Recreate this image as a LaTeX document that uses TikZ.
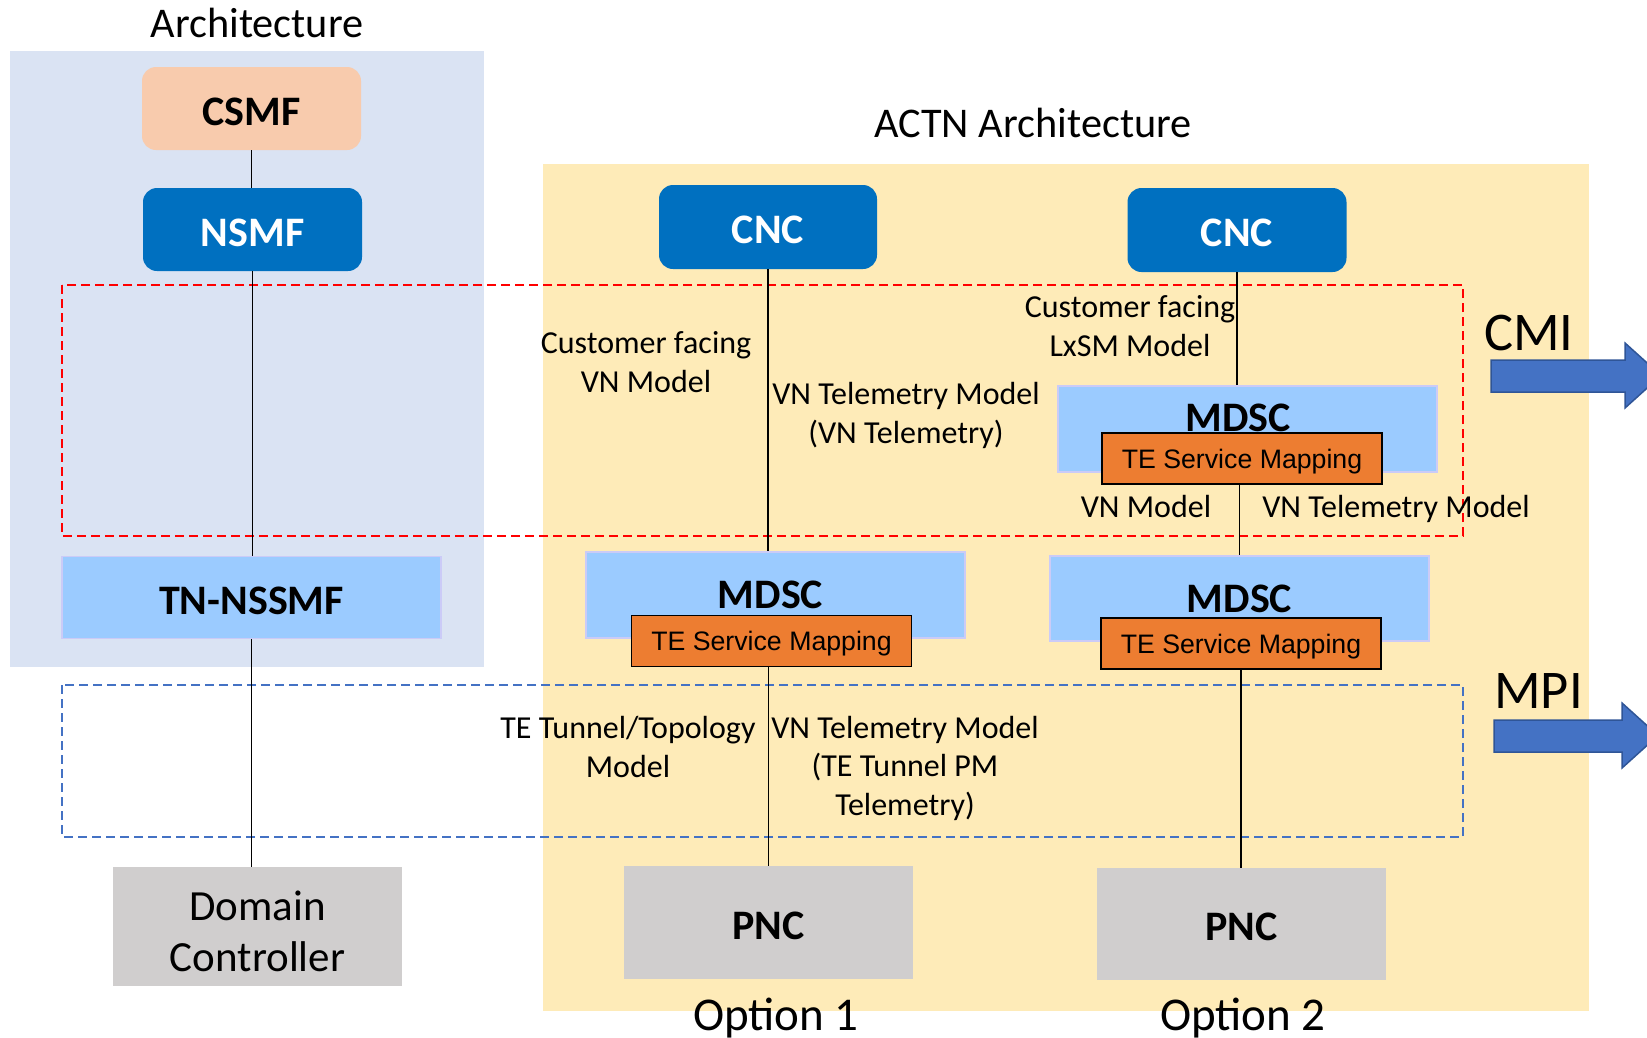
\documentclass[tikz,border=0pt]{standalone}
\usepackage{fontspec}
\setmainfont{Carlito}
\newfontfamily\arialfont{Liberation Sans}
\usetikzlibrary{arrows.meta}

\definecolor{archbg}{HTML}{DAE3F3}
\definecolor{actnbg}{HTML}{FEEBB8}
\definecolor{csmfc}{HTML}{F8CBAD}
\definecolor{ctrlblue}{HTML}{0070C0}
\definecolor{mdscc}{HTML}{9BCBFF}
\definecolor{mdscline}{HTML}{CBCBF7}
\definecolor{tec}{HTML}{ED7D31}
\definecolor{pncc}{HTML}{D0CECE}
\definecolor{ifblue}{HTML}{4472C4}
\definecolor{ifline}{HTML}{2F5597}

\begin{document}
\begin{tikzpicture}[x=1pt, y=-1pt,
    boldbox/.style={inner sep=0pt, text height=33pt, text depth=0pt,
        font=\fontsize{42}{50}\selectfont\bfseries},
    mgmt/.style={boldbox, fill=ctrlblue, text=white, rounded corners=14pt},
    mdsc/.style={boldbox, fill=mdscc, draw=mdscline, line width=1.5pt,
        text height=27pt, minimum width=379pt, minimum height=86pt},
    temap/.style={inner sep=0pt, fill=tec, draw=black, line width=1.5pt,
        text depth=0pt, minimum width=280pt, minimum height=51pt,
        font=\arialfont\fontsize{26.7}{30}\selectfont},
    pnc/.style={boldbox, fill=pncc, minimum width=289pt, minimum height=113pt},
    lbl/.style={inner sep=0pt, anchor=base, align=center,
        font=\fontsize{32}{38.5}\selectfont},
    title/.style={inner sep=0pt, anchor=base, font=\fontsize{42.3}{48}\selectfont},
    iflbl/.style={inner sep=0pt, anchor=base, font=\fontsize{54.5}{60}\selectfont},
    conn/.style={line width=1.5pt},
    ifbox/.style={dashed, dash pattern=on 9pt off 5pt, line width=2pt},
    ifarrow/.style={fill=ifblue, draw=ifline, line width=1.5pt}]

    \useasboundingbox (0,0) rectangle (1647,1037);
    \clip (0,0) rectangle (1647,1037);

    % panels
    \fill[archbg] (10,51) rectangle (484,667);
    \fill[actnbg] (543,164) rectangle (1589,1011);

    % titles
    \node[title] (arch) at (257,37) {Architecture};
    \node[title] (actn) at (1033,137) {ACTN Architecture};

    % interface regions
    \draw[ifbox, red] (62,285) rectangle (1463,536);
    \draw[ifbox, ifblue] (62,685) rectangle (1463,837);

    % 3GPP side
    \node[boldbox, fill=csmfc, rounded corners=14pt, minimum width=219pt,
        minimum height=83pt] (csmf) at (251.5,108.5) {CSMF};
    \node[mgmt, minimum width=219pt, minimum height=83pt] (nsmf) at (252.5,229.5) {NSMF};
    \node[mdsc, text height=33pt, minimum height=82pt] (tnnssmf) at (251.5,597.5) {TN-NSSMF};
    \node[inner sep=0pt, fill=pncc, minimum width=289pt, minimum height=119pt,
        align=center, font=\fontsize{43}{51.5}\selectfont] (domain) at (257.5,926.5)
        {\rule{0pt}{39pt}Domain\\Controller};

    % option 1
    \node[mgmt, minimum width=218pt, minimum height=84pt] (cnc1) at (768,227) {CNC};
    \node[mdsc] (mdscA) at (775.5,595) {\hspace*{-10pt}MDSC};
    \node[temap] (teA) at (771.5,641) {TE Service Mapping};
    \node[pnc] (pnc1) at (768.5,922.5) {PNC};

    % option 2
    \node[mgmt, minimum width=219pt, minimum height=84pt] (cnc2) at (1237,230) {CNC};
    \node[mdsc, text depth=23pt] (mdscC) at (1247.5,429) {\hspace*{-19pt}MDSC};
    \node[temap] (teC) at (1242,458.5) {TE Service Mapping};
    \node[mdsc, minimum height=85pt] (mdscB) at (1239.5,598.5) {MDSC};
    \node[temap] (teB) at (1241,643.5) {TE Service Mapping};
    \node[pnc, minimum height=112pt] (pnc2) at (1241.5,924) {PNC};

    % connectors
    \draw[conn] (csmf.south) -- (csmf.south |- nsmf.north);
    \draw[conn] (nsmf.south) -- (nsmf.south |- tnnssmf.north);
    \draw[conn] (tnnssmf.south) -- (tnnssmf.south |- domain.north);
    \draw[conn] (cnc1.south) -- (cnc1.south |- mdscA.north);
    \draw[conn] (pnc1.north |- teA.south) -- (pnc1.north);
    \draw[conn] (cnc2.south) -- (cnc2.south |- mdscC.north);
    \draw[conn] (mdscB.north |- teC.south) -- (mdscB.north);
    \draw[conn] (teB.south) -- (teB.south |- pnc2.north);

    % model labels (base = last line)
    \node[lbl] (cfvn) at (646,392) {Customer facing\\VN Model};
    \node[lbl] (vntel) at (906,443) {VN Telemetry Model\\(VN Telemetry)};
    \node[lbl] (cflxsm) at (1130,356) {Customer facing\\LxSM Model};
    \node[lbl] (vnmod) at (1146,517) {VN Model};
    \node[lbl] (vntelB) at (1396,517) {VN Telemetry Model};
    \node[lbl] (topo) at (628,777) {TE Tunnel/Topology\\Model};
    \node[lbl] (vntelpm) at (905,815) {VN Telemetry Model\\(TE Tunnel PM\\Telemetry)};

    % options
    \node[title, font=\fontsize{47}{52}\selectfont] (opt1) at (776,1030) {Option 1};
    \node[title, font=\fontsize{47}{52}\selectfont] (opt2) at (1243,1030) {Option 2};

    % interfaces
    \node[iflbl] (cmi) at (1529,350) {CMI};
    \node[iflbl] (mpi) at (1538.5,708) {MPI};
    \draw[ifarrow] (1491,360) -- (1625,360) -- (1625,343) -- (1661,375.5)
        -- (1625,408) -- (1625,392) -- (1491,392) -- cycle;
    \draw[ifarrow] (1494,720) -- (1622,720) -- (1622,703) -- (1658,735.5)
        -- (1622,768) -- (1622,752) -- (1494,752) -- cycle;

\end{tikzpicture}
\end{document}
